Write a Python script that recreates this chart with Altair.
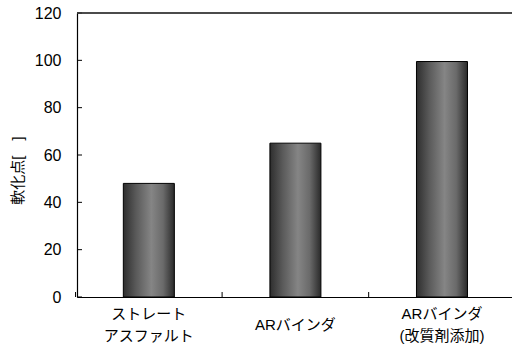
import altair as alt
import pandas as pd

# Softening point of each binder
categories = ["ストレート\nアスファルト", "ARバインダ", "ARバインダ\n(改質剤添加)"]
values = [48, 65, 99.5]
y_ticks = [0, 20, 40, 60, 80, 100, 120]

df = pd.DataFrame({"binder": categories, "softening": values})
ticks_df = pd.DataFrame({"v": y_ticks})

FONT = "Liberation Sans, Arial, Noto Sans CJK JP"

x_scale = alt.Scale(paddingInner=0.652, paddingOuter=0.31, align=0.51)
y_scale = alt.Scale(domain=[0, 120], nice=False)

# cylinder-like shading across each bar
shade = alt.Gradient(
    gradient="linear",
    x1=0, x2=1, y1=0, y2=0,
    stops=[
        alt.GradientStop(color="#2e2e2e", offset=0),
        alt.GradientStop(color="#5a5a5a", offset=0.25),
        alt.GradientStop(color="#858585", offset=0.55),
        alt.GradientStop(color="#6a6a6a", offset=0.78),
        alt.GradientStop(color="#2a2a2a", offset=1),
    ],
)

bars = alt.Chart(df).mark_bar(
    color=shade, stroke="#000000", strokeWidth=1
).encode(
    x=alt.X(
        "binder:N",
        sort=None,
        scale=x_scale,
        axis=alt.Axis(
            title=None,
            labelAngle=0,
            labelExpr="split(datum.label, '\\n')",
            labelFont=FONT,
            labelFontSize=15,
            labelColor="#000000",
            labelLineHeight=22,
            labelBaseline="middle",
            labelPadding={
                "condition": {"test": "indexof(datum.value, '\\n') < 0", "value": 27},
                "value": 16,
            },
            ticks=False,
            domainColor="#000000",
            domainWidth=1.2,
        ),
    ),
    y=alt.Y(
        "softening:Q",
        scale=y_scale,
        axis=alt.Axis(
            values=y_ticks,
            title="軟化点[　]",
            titleFont=FONT,
            titleFontSize=15,
            titleFontWeight="normal",
            titleColor="#000000",
            titleAlign="center",
            titleBaseline="middle",
            titleAngle=-90,
            titleX=-60,
            titleY=157,
            labelFont=FONT,
            labelFontSize=16,
            labelColor="#000000",
            labelPadding=16,
            ticks=False,
            domainColor="#000000",
            domainWidth=1.2,
            grid=False,
        ),
    ),
)

# inward tick marks on the value axis
y_tick_marks = alt.Chart(ticks_df).mark_rule(color="#000000", strokeWidth=1).encode(
    y=alt.Y("v:Q", scale=y_scale),
    x=alt.value(0),
    x2=alt.value(5),
)

# inward tick marks on the category boundaries (half the inner gap before each band)
x_tick_marks = alt.Chart(df).mark_rule(
    color="#000000", strokeWidth=1, xOffset=-47.8
).encode(
    x=alt.X("binder:N", sort=None, scale=x_scale, bandPosition=0),
    y=alt.value(284),
    y2=alt.value(279),
)

# top frame line of the plot area
top_line = alt.Chart(df).mark_rule(color="#333333", strokeWidth=1.2).encode(
    y=alt.datum(120, scale=y_scale),
    x=alt.value(0),
    x2=alt.value("width"),
)

chart = (
    alt.layer(bars, y_tick_marks, x_tick_marks, top_line)
    .properties(
        width=435,
        height=284,
        padding={"left": 77, "top": 13, "right": 0, "bottom": 62},
        autosize=alt.AutoSizeParams(type="none"),
        background="#ffffff",
    )
    .configure_view(stroke=None)
)

chart.save("out.html", embed_options={"renderer": "svg", "actions": False})
